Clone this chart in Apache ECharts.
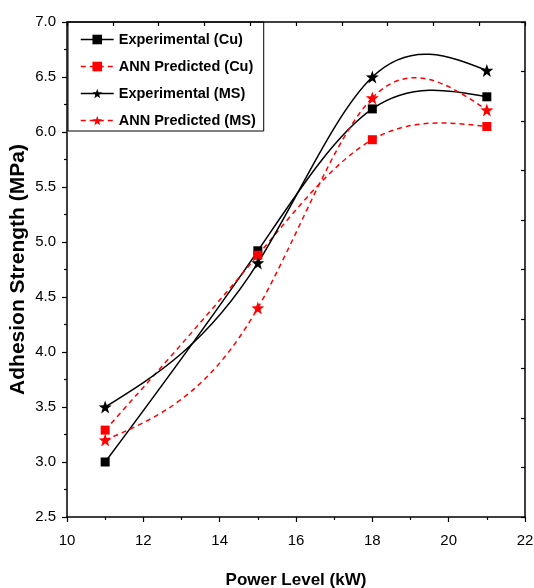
<!DOCTYPE html>
<html>
<head>
<meta charset="utf-8">
<script src="https://cdn.jsdelivr.net/npm/echarts@6/dist/echarts.min.js"></script>
<style>
html,body{margin:0;padding:0;background:#fff;}
#chart{width:534px;height:588px;}
</style>
</head>
<body>
<div id="chart"></div>
<script>
// ---- data ----
var powerLevels = [11, 15, 18, 21];
var expCu = [3.0, 4.92, 6.21, 6.32];
var annCu = [3.29, 4.88, 5.93, 6.05];
var expMS = [3.5, 4.81, 6.5, 6.56];
var annMS = [3.2, 4.4, 6.31, 6.2];
var seriesNames = ['Experimental (Cu)', 'ANN Predicted (Cu)', 'Experimental (MS)', 'ANN Predicted (MS)'];
var xTitle = 'Power Level (kW)';
var yTitle = 'Adhesion Strength (MPa)';

var FONT = '"Liberation Sans", Arial, sans-serif';
var STAR = 'path://M50 0 L61.76 33.82 L97.55 34.55 L69.02 56.18 L79.39 90.45 L50 70 L20.61 90.45 L30.98 56.18 L2.45 34.55 L38.24 33.82 Z';
var DASH = [5, 4];

function pairs(ys) { return powerLevels.map(function (x, i) { return [x, ys[i]]; }); }

// natural cubic spline knot slopes (as Origin's spline connector)
function splineSlopes(xs, ys) {
  var n = xs.length, h = [], d = [], i;
  for (i = 0; i < n - 1; i++) { h.push(xs[i + 1] - xs[i]); d.push((ys[i + 1] - ys[i]) / h[i]); }
  var M = new Array(n).fill(0);
  if (n > 2) {
    var m = n - 2, a = [], b = [], c = [], r = [];
    for (i = 1; i <= m; i++) {
      a.push(h[i - 1]); b.push(2 * (h[i - 1] + h[i])); c.push(h[i]); r.push(6 * (d[i] - d[i - 1]));
    }
    for (i = 1; i < m; i++) { var w = a[i] / b[i - 1]; b[i] -= w * c[i - 1]; r[i] -= w * r[i - 1]; }
    var sol = new Array(m);
    sol[m - 1] = r[m - 1] / b[m - 1];
    for (i = m - 2; i >= 0; i--) sol[i] = (r[i] - c[i] * sol[i + 1]) / b[i];
    for (i = 0; i < m; i++) M[i + 1] = sol[i];
  }
  var s = [];
  for (i = 0; i < n - 1; i++) s.push(d[i] - h[i] * (2 * M[i] + M[i + 1]) / 6);
  s.push(d[n - 2] + h[n - 2] * (M[n - 2] + 2 * M[n - 1]) / 6);
  return s;
}

function makeCurve(ys, color, dashed) {
  var sl = splineSlopes(powerLevels, ys);
  return {
    type: 'custom', xAxisIndex: 0, yAxisIndex: 0, data: pairs(ys), silent: true, z: 2,
    renderItem: function (params, api) {
      var i = params.dataIndex;
      if (i >= powerLevels.length - 1) return null;
      var x0 = powerLevels[i], x1 = powerLevels[i + 1], h = x1 - x0;
      var p0 = api.coord([x0, ys[i]]), p1 = api.coord([x1, ys[i + 1]]);
      var c0 = api.coord([x0 + h / 3, ys[i] + sl[i] * h / 3]);
      var c1 = api.coord([x1 - h / 3, ys[i + 1] - sl[i + 1] * h / 3]);
      return {
        type: 'bezierCurve',
        shape: { x1: p0[0], y1: p0[1], x2: p1[0], y2: p1[1], cpx1: c0[0], cpy1: c0[1], cpx2: c1[0], cpy2: c1[1] },
        style: { stroke: color, lineWidth: 1.5, fill: null, lineDash: dashed ? DASH : null }
      };
    }
  };
}

function mkMarks(name, ys, color, symbol, size) {
  return {
    name: name, type: 'line', xAxisIndex: 0, yAxisIndex: 0, z: 3,
    data: pairs(ys), symbol: symbol, symbolSize: size,
    lineStyle: { color: color, opacity: 0 },
    itemStyle: { color: color },
    emphasis: { disabled: true }
  };
}

function legendItem(name, color, dashed) {
  return { name: name, itemStyle: { color: color }, lineStyle: { color: color, width: 1.5, opacity: 1, type: dashed ? DASH : 'solid' } };
}

var chart = echarts.init(document.getElementById('chart'), null, { renderer: 'canvas' });
var axisLineStyle = { color: '#000', width: 1.5 };
chart.setOption({
  animation: false,
  backgroundColor: '#fff',
  grid: { left: 67, right: 9, top: 22, bottom: 71, containLabel: false, outerBoundsMode: 'none' },
  legend: {
    orient: 'vertical', left: 68, top: 22,
    data: [
      legendItem(seriesNames[0], '#000000', false),
      legendItem(seriesNames[1], '#ff0000', true),
      legendItem(seriesNames[2], '#000000', false),
      legendItem(seriesNames[3], '#ff0000', true)
    ],
    itemWidth: 33, itemHeight: 12, itemGap: 12,
    padding: [10, 8, 3, 12],
    borderColor: '#000', borderWidth: 1,
    textStyle: { fontFamily: FONT, fontWeight: 'bold', fontSize: 14.5, lineHeight: 14, color: '#000' }
  },
  xAxis: [{
    type: 'value', position: 'bottom', min: 10, max: 22, interval: 2,
    axisLine: { show: true, onZero: false, lineStyle: axisLineStyle },
    axisTick: { show: true, length: 5, lineStyle: { color: '#000', width: 1.2 } },
    minorTick: { show: true, splitNumber: 2, length: 3, lineStyle: { color: '#000', width: 1.2 } },
    splitLine: { show: false },
    axisLabel: { color: '#000', fontFamily: FONT, fontSize: 15, margin: 16 },
    name: xTitle, nameLocation: 'middle', nameGap: 55, nameMoveOverlap: false,
    nameTextStyle: { color: '#000', fontFamily: FONT, fontWeight: 'bold', fontSize: 17 }
  }, {
    type: 'value', position: 'top', min: 0, max: 10, interval: 1,
    axisLine: { show: true, onZero: false, lineStyle: axisLineStyle },
    axisTick: { show: true, inside: true, length: 4, lineStyle: { color: '#000', width: 1.2 } },
    axisLabel: { show: false }, splitLine: { show: false }
  }],
  yAxis: [{
    type: 'value', position: 'left', min: 2.5, max: 7, interval: 0.5,
    axisLine: { show: true, onZero: false, lineStyle: axisLineStyle },
    axisTick: { show: true, length: 5, lineStyle: { color: '#000', width: 1.2 } },
    minorTick: { show: true, splitNumber: 2, length: 3, lineStyle: { color: '#000', width: 1.2 } },
    splitLine: { show: false },
    axisLabel: { color: '#000', fontFamily: FONT, fontSize: 15, margin: 11, formatter: function (v) { return v.toFixed(1); } },
    name: yTitle, nameLocation: 'middle', nameGap: 38, nameRotate: 90, nameMoveOverlap: false,
    nameTextStyle: { color: '#000', fontFamily: FONT, fontWeight: 'bold', fontSize: 21 }
  }, {
    type: 'value', position: 'right', min: 0, max: 10, interval: 1,
    axisLine: { show: true, onZero: false, lineStyle: axisLineStyle },
    axisTick: { show: true, inside: true, length: 4, lineStyle: { color: '#000', width: 1.2 } },
    axisLabel: { show: false }, splitLine: { show: false }
  }],
  series: [
    makeCurve(expCu, '#000000', false),
    makeCurve(annCu, '#ff0000', true),
    makeCurve(expMS, '#000000', false),
    makeCurve(annMS, '#ff0000', true),
    mkMarks(seriesNames[0], expCu, '#000000', 'rect', 9),
    mkMarks(seriesNames[1], annCu, '#ff0000', 'rect', 9),
    mkMarks(seriesNames[2], expMS, '#000000', STAR, 13),
    mkMarks(seriesNames[3], annMS, '#ff0000', STAR, 13)
  ]
});
</script>
</body>
</html>
